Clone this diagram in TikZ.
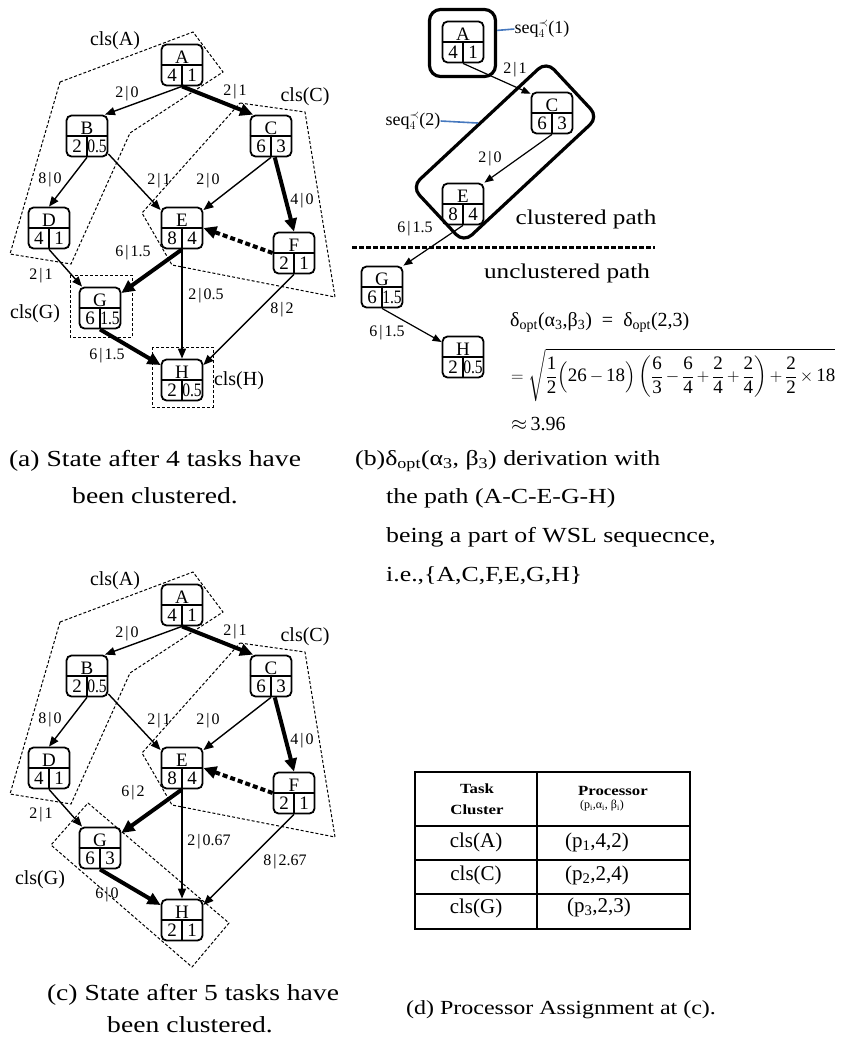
\documentclass[tikz,border=0pt]{standalone}
\usepackage{fontspec}
\usepackage{amsmath}
\setmainfont{Liberation Serif}
\newfontfamily\capfont[FakeStretch=1.2]{Liberation Serif}
\newfontfamily\narrowfont[FakeStretch=0.82]{Liberation Serif}
\usetikzlibrary{arrows.meta}
\newcommand{\esep}{\kern2pt\textbar\kern2pt}
\newcommand{\tn}[1]{\text{#1}}
\newcommand{\tasknode}[6]{%
  \node[tbox] (#1) at (#2,#3) {};
  \draw[tdiv] (#1.west) -- (#1.east);
  \draw[tdiv] (#1.center) -- (#1.south);
  \node[ttext] (#1-t) at (#2,#3-7.5) {#4};
  \node[ttext] (#1-l) at (#2-10,#3+10) {#5};
  \node[ttext] (#1-r) at (#2+10,#3+10) {#6};
}
\tikzset{
  tbox/.style={draw, line width=1.8pt, rounded corners=5pt, minimum width=41pt, minimum height=41pt, inner sep=0pt},
  tdiv/.style={line width=1.4pt},
  ttext/.style={inner sep=0pt, font=\fontsize{19}{19}\selectfont},
  edge/.style={line width=1.4pt, -{Triangle[length=10pt,width=8pt]}},
  tedge/.style={line width=4pt, -{Triangle[length=13pt,width=12pt]}},
  dedge/.style={line width=4pt, dash pattern=on 5pt off 3pt, -{Triangle[length=13pt,width=12pt]}},
  bedge/.style={line width=1.2pt, -{Triangle[length=9pt,width=7pt]}},
  elabel/.style={inner sep=0pt, font=\fontsize{16}{16}\selectfont},
  clsline/.style={line width=1pt, dash pattern=on 3pt off 2pt},
  clslabel/.style={inner sep=0pt, font=\fontsize{20}{20}\selectfont},
  seqbox/.style={draw, line width=3.2pt, rounded corners=11pt, inner sep=0pt},
  seqlabel/.style={inner sep=0pt, font=\fontsize{18}{18}\selectfont},
  blueline/.style={line width=1.6pt, draw={rgb,255:red,70;green,120;blue,190}},
  caption/.style={inner sep=0pt, font=\capfont\fontsize{23}{23}\selectfont},
  bcaption/.style={inner sep=0pt, anchor=west, font=\capfont\fontsize{21.5}{21.5}\selectfont},
  formula/.style={inner sep=0pt, anchor=west, font=\fontsize{20}{23}\selectfont},
  pathtext/.style={inner sep=0pt, font=\capfont\fontsize{21}{21}\selectfont},
  tline/.style={line width=2.5pt},
  thead/.style={inner sep=0pt, font=\capfont\bfseries\fontsize{14}{14}\selectfont},
  tcell/.style={inner sep=0pt, font=\fontsize{21}{21}\selectfont},
}
\begin{document}
\begin{tikzpicture}[x=1pt,y=-1pt]
\useasboundingbox[fill=white] (0,0) rectangle (857,1039);

% ================= (a) =================
\draw[clsline] (60,82) -- (193,32) -- (223,72) -- (130,133) -- (71,264) -- (10,254) -- cycle;
\draw[clsline] (240,103) -- (305,112) -- (335,297) -- (172,265) -- (142,213) -- cycle;
\draw[clsline] (70,275) rectangle (132,337);
\draw[clsline] (152,347) rectangle (213,407);
\node[clslabel] (a-clsA) at (115,41) {cls(A)};
\node[clslabel] (a-clsC) at (305,97) {cls(C)};
\node[clslabel] (a-clsG) at (35,314) {cls(G)};
\node[clslabel] (a-clsH) at (239,381) {cls(H)};

\tasknode{a-A}{182}{65}{A}{4}{1}
\tasknode{a-B}{87}{136}{B}{2}{\narrowfont 0.5}
\tasknode{a-C}{271}{136}{C}{6}{3}
\tasknode{a-D}{49}{228}{D}{4}{1}
\tasknode{a-E}{182}{228}{E}{8}{4}
\tasknode{a-F}{294}{253}{F}{2}{1}
\tasknode{a-G}{100}{308}{G}{6}{\narrowfont 1.5}
\tasknode{a-H}{182}{380}{H}{2}{\narrowfont 0.5}

\draw[edge] (a-A.south) -- (a-B.50);
\draw[tedge] (a-A.south) -- (a-C.130);
\draw[edge] (a-B.south) -- (a-D.north);
\draw[edge] (a-B.-40) -- (a-E.140);
\draw[edge] (a-C.south) -- (a-E.40);
\draw[tedge] (a-C.-80) -- (a-F.north);
\draw[dedge] (a-F.west) -- (a-E.east);
\draw[tedge] (a-E.south) -- (a-G.35);
\draw[edge] (a-D.south) -- (a-G.130);
\draw[edge] (a-E.south) -- (a-H.north);
\draw[edge] (a-F.south) -- (a-H.35);
\draw[tedge] (a-G.south) -- (a-H.145);

\node[elabel] (a-l1) at (127,94) {2\esep 0};
\node[elabel] (a-l2) at (235,92) {2\esep 1};
\node[elabel] (a-l3) at (50,180) {8\esep 0};
\node[elabel] (a-l4) at (159,181) {2\esep 1};
\node[elabel] (a-l5) at (208,181) {2\esep 0};
\node[elabel] (a-l6) at (302,201) {4\esep 0};
\node[elabel] (a-l7) at (133,253) {6\esep 1.5};
\node[elabel] (a-l8) at (41,276) {2\esep 1};
\node[elabel] (a-l9) at (206,296) {2\esep 0.5};
\node[elabel] (a-l10) at (282,310) {8\esep 2};
\node[elabel] (a-l11) at (107,356) {6\esep 1.5};

\node[caption] (a-cap1) at (155,461) {(a) State after 4 tasks have};
\node[caption] (a-cap2) at (155,496) {been clustered.};

% ================= (b) =================
\node[seqbox, minimum width=66pt, minimum height=67pt] (b-seq1) at (462.5,43) {};
\node[seqbox, minimum width=184pt, minimum height=76pt, rotate=43] (b-seq2) at (505,152) {};
\node[seqlabel] (b-s1) at (542,29) {seq$_4^{\prec}$(1)};
\node[seqlabel] (b-s2) at (413,121) {seq$_4^{\prec}$(2)};
\draw[blueline] (b-s1.west) -- (b-seq1.20);
\draw[blueline] (b-s2.east) -- (b-seq2.north);

\tasknode{b-A}{463}{42}{A}{4}{1}
\tasknode{b-C}{552}{113}{C}{6}{3}
\tasknode{b-E}{463}{204}{E}{8}{4}
\tasknode{b-G}{382}{287}{G}{6}{\narrowfont 1.5}
\tasknode{b-H}{463}{357}{H}{2}{\narrowfont 0.5}

\draw[bedge] (b-A.south) -- (b-C.138);
\draw[bedge] (b-C.south) -- (b-E.45);
\draw[bedge] (b-E.south) -- (b-G.45);
\draw[bedge] (b-G.south) -- (b-H.145);

\node[elabel] (b-l1) at (515,70) {2\esep 1};
\node[elabel] (b-l2) at (490,159) {2\esep 0};
\node[elabel] (b-l3) at (415,229) {6\esep 1.5};
\node[elabel] (b-l4) at (387,333) {6\esep 1.5};

\coordinate (b-d1) at (352,247);
\coordinate (b-d2) at (655,247);
\draw[line width=3pt, dash pattern=on 5pt off 2pt] (b-d1) -- (b-d2);
\node[pathtext] (b-cp) at (586,219) {clustered path};
\node[pathtext] (b-up) at (567,273) {unclustered path};

\node[formula] (b-f1) at (510,322) {δ\textsubscript{opt}(α\textsubscript{3},β\textsubscript{3})\enspace=\enspace δ\textsubscript{opt}(2,3)};
\node[formula, font=\fontsize{19}{22}\selectfont] (b-f2) at (511,375) {$\medmuskip=3mu\displaystyle =\sqrt{\frac{\tn{1}}{\tn{2}}\Bigl(\tn{26}-\tn{18}\Bigr)\left(\frac{\tn{6}}{\tn{3}}-\frac{\tn{6}}{\tn{4}}+\frac{\tn{2}}{\tn{4}}+\frac{\tn{2}}{\tn{4}}\right)+\frac{\tn{2}}{\tn{2}}\times \tn{18}}$};
\node[formula] (b-f3) at (511,424) {$\approx$\,3.96};

\node[bcaption] (b-cap1) at (355,461) {(b)δ\textsubscript{opt}(α\textsubscript{3}, β\textsubscript{3}) derivation with};
\node[bcaption] (b-cap2) at (386,498) {the path (A-C-E-G-H)};
\node[bcaption] (b-cap3) at (386,537) {being a part of WSL sequecnce,};
\node[bcaption] (b-cap4) at (386,576) {i.e.,\{A,C,F,E,G,H\}};

% ================= (c) =================
\draw[clsline] (60,622) -- (193,572) -- (223,612) -- (130,673) -- (71,804) -- (10,794) -- cycle;
\draw[clsline] (240,643) -- (305,652) -- (335,837) -- (172,805) -- (142,753) -- cycle;
\draw[clsline] (88,803) -- (229,923) -- (192,967) -- (51,845) -- cycle;
\node[clslabel] (c-clsA) at (115,581) {cls(A)};
\node[clslabel] (c-clsC) at (305,637) {cls(C)};
\node[clslabel] (c-clsG) at (40,880) {cls(G)};

\tasknode{c-A}{182}{605}{A}{4}{1}
\tasknode{c-B}{87}{676}{B}{2}{\narrowfont 0.5}
\tasknode{c-C}{271}{676}{C}{6}{3}
\tasknode{c-D}{49}{768}{D}{4}{1}
\tasknode{c-E}{182}{768}{E}{8}{4}
\tasknode{c-F}{294}{793}{F}{2}{1}
\tasknode{c-G}{100}{848}{G}{6}{3}
\tasknode{c-H}{182}{920}{H}{2}{1}

\draw[edge] (c-A.south) -- (c-B.50);
\draw[tedge] (c-A.south) -- (c-C.130);
\draw[edge] (c-B.south) -- (c-D.north);
\draw[edge] (c-B.-40) -- (c-E.140);
\draw[edge] (c-C.south) -- (c-E.40);
\draw[tedge] (c-C.-80) -- (c-F.north);
\draw[dedge] (c-F.west) -- (c-E.east);
\draw[tedge] (c-E.south) -- (c-G.35);
\draw[edge] (c-D.south) -- (c-G.130);
\draw[edge] (c-E.south) -- (c-H.north);
\draw[edge] (c-F.south) -- (c-H.35);
\draw[tedge] (c-G.south) -- (c-H.145);

\node[elabel] (c-l1) at (127,634) {2\esep 0};
\node[elabel] (c-l2) at (235,632) {2\esep 1};
\node[elabel] (c-l3) at (50,720) {8\esep 0};
\node[elabel] (c-l4) at (159,721) {2\esep 1};
\node[elabel] (c-l5) at (208,721) {2\esep 0};
\node[elabel] (c-l6) at (302,741) {4\esep 0};
\node[elabel] (c-l7) at (133,793) {6\esep 2};
\node[elabel] (c-l8) at (41,815) {2\esep 1};
\node[elabel] (c-l9) at (209,842) {2\esep 0.67};
\node[elabel] (c-l10) at (285,862) {8\esep 2.67};
\node[elabel] (c-l11) at (107,895) {6\esep 0};

\node[caption] (c-cap1) at (193,995) {(c) State after 5 tasks have};
\node[caption] (c-cap2) at (190,1025) {been clustered.};

% ================= (d) =================
\draw[tline] (415,772) rectangle (690,929);
\draw[tline] (537,772) -- (537,929);
\draw[tline] (415,826) -- (690,826);
\draw[tline] (415,860) -- (690,860);
\draw[tline] (415,894) -- (690,894);
\node[thead] (d-h1) at (477,789) {Task};
\node[thead] (d-h2) at (477,810) {Cluster};
\node[thead] (d-h3) at (613,791) {Processor};
\node[inner sep=0pt, font=\fontsize{12}{12}\selectfont] (d-h4) at (602,806) {(p\textsubscript{i},α\textsubscript{i}, β\textsubscript{i})};
\node[tcell] (d-r1a) at (476,842) {cls(A)};
\node[tcell] (d-r1b) at (597,842) {(p\textsubscript{1},4,2)};
\node[tcell] (d-r2a) at (476,875) {cls(C)};
\node[tcell] (d-r2b) at (597,875) {(p\textsubscript{2},2,4)};
\node[tcell] (d-r3a) at (476,908) {cls(G)};
\node[tcell] (d-r3b) at (599,907) {(p\textsubscript{3},2,3)};
\node[caption, font=\capfont\fontsize{20}{20}\selectfont] (d-cap) at (561,1010) {(d) Processor Assignment at (c).};
\end{tikzpicture}
\end{document}
